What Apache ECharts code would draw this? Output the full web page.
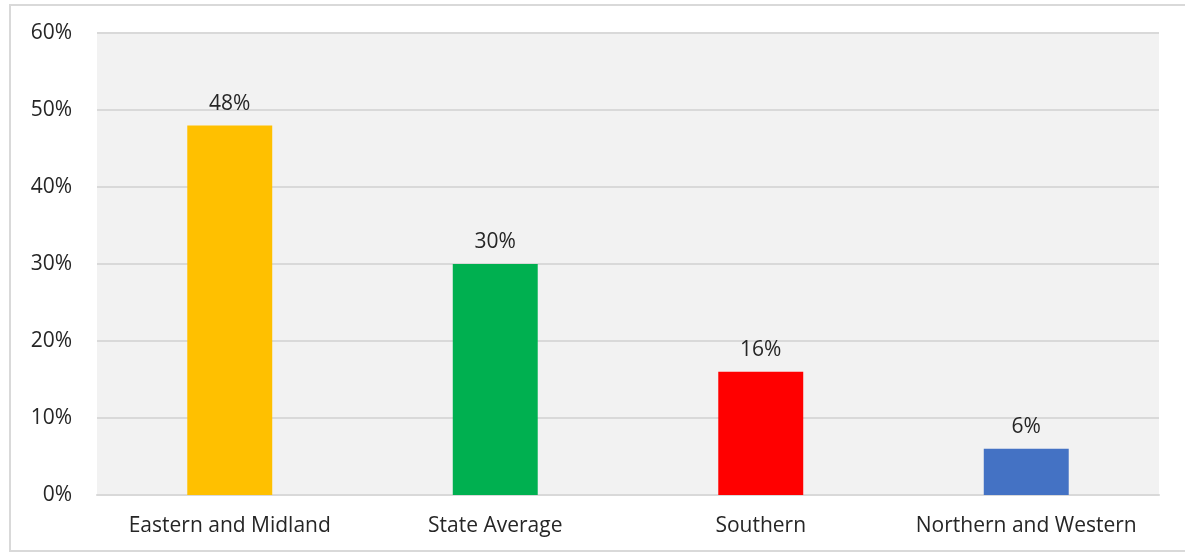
<!DOCTYPE html>
<html>
<head>
<meta charset="utf-8">
<script src="https://cdn.jsdelivr.net/npm/echarts@6/dist/echarts.min.js"></script>
<style>
  html, body { margin: 0; padding: 0; background: #ffffff; }
  #frame { position: absolute; left: 9px; top: 4px; width: 1176px; height: 548px;
           border-top: 2px solid #d9d9d9; border-left: 2px solid #d9d9d9; border-bottom: 2px solid #d9d9d9; box-sizing: border-box; }
  #chart { position: absolute; left: 0; top: 0; width: 1185px; height: 554px; }
</style>
</head>
<body>
<div id="frame"></div>
<div id="chart"></div>
<script>
// Regions and their shares
const categories = ['Eastern and Midland', 'State Average', 'Southern', 'Northern and Western'];
const values = [48, 30, 16, 6];
const barColors = ['#FFC000', '#00B050', '#FF0000', '#4472C4'];
const yTicks = { min: 0, max: 60, interval: 10 };

const FONT = '"Open Sans", "Noto Sans", sans-serif';
const TEXT = '#262626';

const chart = echarts.init(document.getElementById('chart'), null, { renderer: 'canvas' });
chart.setOption({
  animation: false,
  backgroundColor: 'transparent',
  grid: { left: 97, right: 26, top: 33, bottom: 59, show: true, backgroundColor: '#f2f2f2', borderWidth: 0 },
  xAxis: {
    type: 'category',
    data: categories,
    axisLine: { show: true, lineStyle: { color: '#d9d9d9', width: 2 } },
    axisTick: { show: false },
    axisLabel: { color: TEXT, fontSize: 21, fontFamily: FONT, margin: 21, interval: 0 }
  },
  yAxis: {
    type: 'value',
    min: yTicks.min, max: yTicks.max, interval: yTicks.interval,
    axisLine: { show: false },
    axisTick: { show: false },
    splitLine: { lineStyle: { color: '#d9d9d9', width: 2 } },
    axisLabel: { color: TEXT, fontSize: 21, fontFamily: FONT, margin: 25, padding: [6, 0, 0, 0], formatter: v => v + '%' }
  },
  series: [{
    type: 'bar',
    barWidth: '32%',
    data: values.map((v, i) => ({ value: v, itemStyle: { color: barColors[i] } })),
    label: {
      show: true, position: 'top', distance: 11,
      color: TEXT, fontSize: 21, fontFamily: FONT,
      formatter: p => p.value + '%'
    }
  }]
});
</script>
</body>
</html>
